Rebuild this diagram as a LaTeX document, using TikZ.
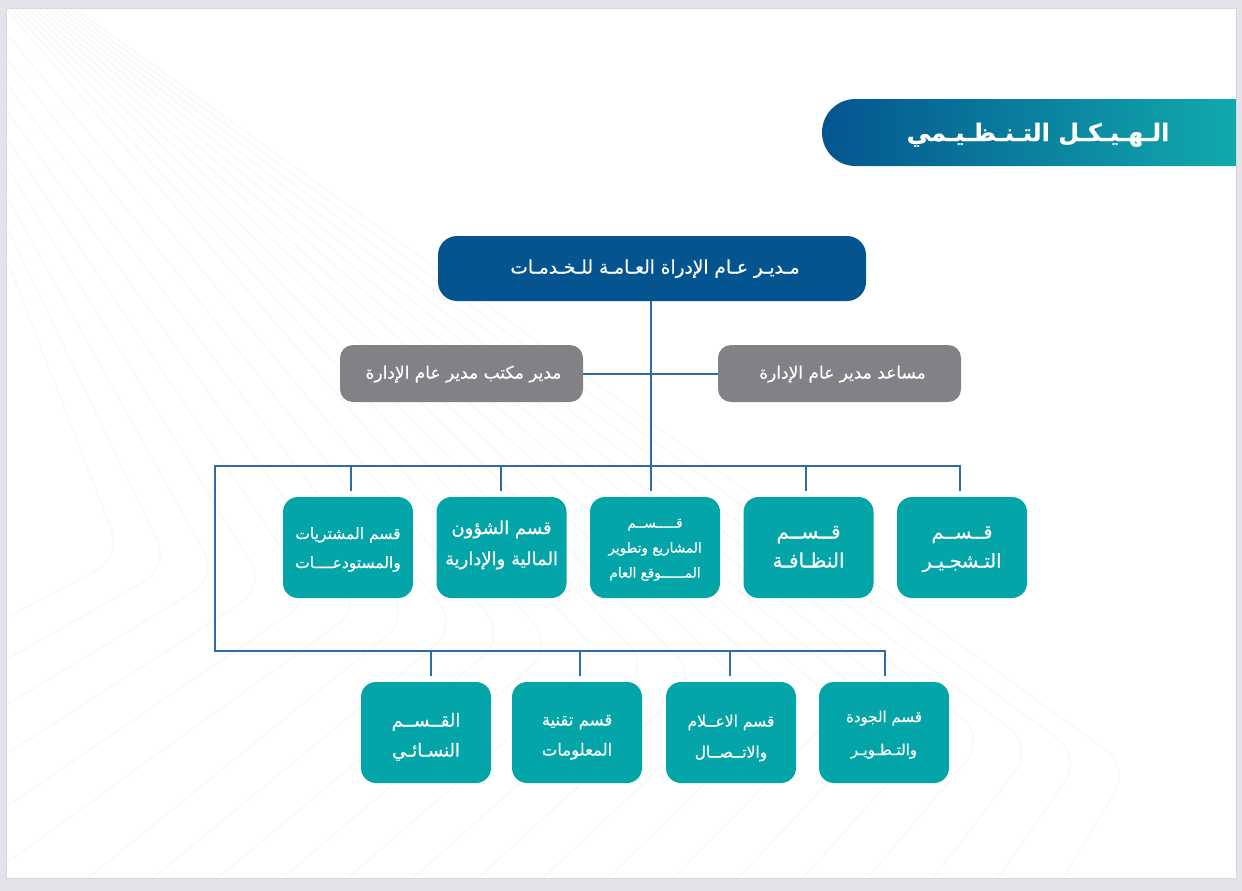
\documentclass[tikz,border=0pt]{standalone}
\usepackage{fontspec}
\usepackage{tikz}
\TeXXeTstate=1
\newfontfamily\arabicfont[Script=Arabic,FakeBold=0.5]{DejaVu Sans}
\def\textdrop{4pt}
\newcommand{\artext}[1]{\raisebox{-\textdrop}[0pt][0pt]{\arabicfont\beginR #1\endR}}
\definecolor{sheetgray}{HTML}{E3E3EA}
\definecolor{sheetedge}{HTML}{D6D6DD}
\definecolor{waveline}{HTML}{F7F7F8}
\definecolor{headblue}{HTML}{04558F}
\definecolor{officegray}{HTML}{808285}
\definecolor{deptteal}{HTML}{04A5A8}
\definecolor{linkblue}{HTML}{2F6CA6}

\begin{document}
\begin{tikzpicture}[
   x=1pt,y=-1pt,
   every matrix/.style={ampersand replacement=\&,inner sep=0pt},
   box/.style={text=white,align=center,inner sep=0pt,font=\fontsize{15.5}{29}\selectfont},
   size/.style n args={3}{font=\fontsize{#1}{#2}\selectfont,execute at begin node={\def\textdrop{#3pt}}},
   head/.style={box,fill=headblue,rounded corners=19pt,minimum width=428pt,minimum height=65pt},
   office/.style={box,fill=officegray,rounded corners=13pt,minimum width=243pt,minimum height=57pt},
   dept/.style={box,fill=deptteal,rounded corners=15pt,minimum width=130pt,minimum height=101pt},
   link/.style={linkblue,line width=2pt},
   drop/.style={link,shorten <=6pt}]
\useasboundingbox (0,0) rectangle (1242,891);
\fill[sheetgray] (0,0) rectangle (1242,891);
\fill[white,draw=sheetedge,line width=1pt] (6,9) rectangle (1236,878);

% faint lines behind the chart
\begin{scope}
\clip (6.5,9.5) rectangle (1235.5,877.5);
\foreach \k in {0,...,21}{
  \pgfmathsetmacro{\sx}{\k<13 ? 75-5.75*\k : 6}
  \pgfmathsetmacro{\sy}{\k<13 ? 9 : 33+(\k-13)*(24+0.5*(\k-13))}
  \pgfmathsetmacro{\ax}{1130-48*\k}
  \pgfmathsetmacro{\ay}{767-10*\k}
  \pgfmathsetmacro{\ex}{\k<16 ? 1063-65*\k : 6}
  \pgfmathsetmacro{\ey}{\k<16 ? 878 : 618+(21-\k)*(40+1.8*(21-\k))}
  \draw[waveline,line width=1.2pt,rounded corners=30pt]
    (\sx,\sy) -- (\ax,\ay) -- (\ex,\ey);
}
\end{scope}

% title
\shade[left color=headblue,middle color=headblue!50!deptteal,right color=deptteal!95!white]
  (1236,99) -- (855.5,99) arc[start angle=90,end angle=270,radius=33.5pt] -- (1236,166) -- cycle;
\node[text=white,align=center,inner sep=0pt,size={24}{30}{8},font=\fontsize{24}{30}\selectfont\bfseries] (title) at (1038,133)
  {\artext{الـهـيـكـل التـنـظـيـمي}};

\node[head,size={18.5}{24}{5}] (gm) at (652,268.5) {\hspace*{6pt}\artext{مـديـر عـام الإدراة العـامـة للـخـدمـات}};
\node[office,size={17}{24}{5}] (mgr) at (461.5,373.5) {\hspace*{4pt}\artext{مدير مكتب مدير عام الإدارة}};
\node[office,size={17}{24}{5}] (asst) at (839.5,373.5) {\hspace*{6pt}\artext{مساعد مدير عام الإدارة}};

\matrix[column sep=23.5pt] (row1) at (655,547.5) {
\node[dept,size={15.5}{29}{6}] (purch) {\artext{قسم المشتريات}\\\artext{والمستودعــــات}};\&
\node[dept,size={18}{31}{2}] (fin) {\artext{قسم الشؤون}\\\artext{المالية والإدارية}};\&
\node[dept,size={13.5}{25}{5}] (proj) {\artext{قـــــســم}\\\artext{المشاريع وتطوير}\\\artext{المــــــوقع العام}};\&
\node[dept,size={20}{29}{5.5}] (clean) {\artext{قــســم}\\\artext{النظـافـة}};\&
\node[dept,size={19}{29}{5.5}] (plant) {\artext{قــســم}\\\artext{التـشجـيـر}};\\
};
\matrix[column sep=22.7pt] (row2) at (655,732.5) {
\node[dept,size={18}{30}{9}] (women) {\artext{القــســم}\\\artext{النسـائـي}};\&[-1.7pt]
\node[dept,size={16.5}{30}{8}] (tech) {\artext{قسم تقنية}\\\artext{المعلومات}};\&[1.3pt]
\node[dept,size={15.5}{31}{9.5}] (media) {\artext{قسم الاعــلام}\\\artext{والاتــصــال}};\&[0.3pt]
\node[dept,size={15}{33}{6}] (qual) {\artext{قسم الجودة}\\\artext{والتـطـويـر}};\\
};

\coordinate (busA) at (651,466);
\coordinate (busB) at (215,651);

\draw[link] (gm.south -| busA) -- (busA);
\draw[link] (mgr.east) -- (asst.west);
\draw[drop,shorten >=6pt] ([xshift=-2pt]plant.north) |- (busB |- busA) -- (busB) -| ([xshift=1pt]qual.north);
\draw[drop] ([xshift=3pt]purch.north) -- ([xshift=3pt]purch.north |- busA);
\draw[drop] ([xshift=-1pt]fin.north) -- ([xshift=-1pt]fin.north |- busA);
\draw[drop] ([xshift=-4pt]proj.north) -- ([xshift=-4pt]proj.north |- busA);
\draw[drop] ([xshift=-2.5pt]clean.north) -- ([xshift=-2.5pt]clean.north |- busA);
\draw[drop] ([xshift=5pt]women.north) -- ([xshift=5pt]women.north |- busB);
\draw[drop] ([xshift=3pt]tech.north) -- ([xshift=3pt]tech.north |- busB);
\draw[drop] ([xshift=-1pt]media.north) -- ([xshift=-1pt]media.north |- busB);
\end{tikzpicture}
\end{document}
